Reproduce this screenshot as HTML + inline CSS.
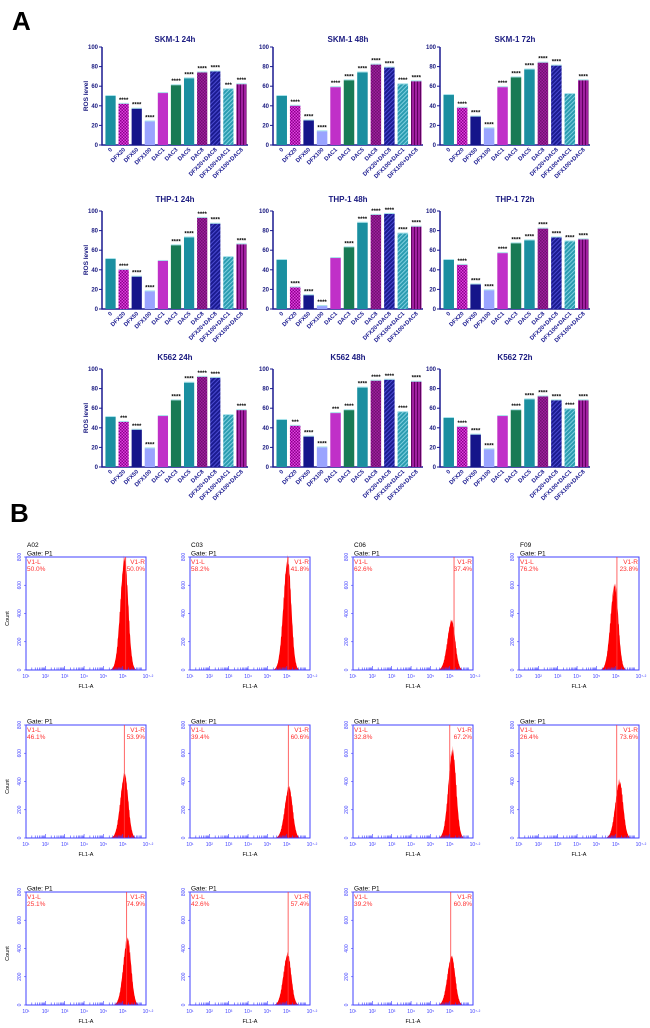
<!DOCTYPE html>
<html><head><meta charset="utf-8"><style>
html,body{margin:0;padding:0;background:#fff;}
svg{display:block;font-family:"Liberation Sans",Arial,sans-serif;}
</style></head><body>
<svg id="fig" width="650" height="1028" viewBox="0 0 650 1028">
<defs>
<pattern id="pChkM" width="3" height="3" patternUnits="userSpaceOnUse"><rect width="3" height="3" fill="#e040e0"/><rect width="1.5" height="1.5" fill="#8a008a"/><rect x="1.5" y="1.5" width="1.5" height="1.5" fill="#8a008a"/></pattern>
<pattern id="pChkP" width="3" height="3" patternUnits="userSpaceOnUse"><rect width="3" height="3" fill="#a020a0"/><rect width="1.5" height="1.5" fill="#701070"/><rect x="1.5" y="1.5" width="1.5" height="1.5" fill="#701070"/></pattern>
<pattern id="pDiagN" width="3" height="3" patternUnits="userSpaceOnUse" patternTransform="rotate(45)"><rect width="3" height="3" fill="#1a1a90"/><rect width="1" height="3" fill="#4a4ad0"/></pattern>
<pattern id="pDiagT" width="3" height="3" patternUnits="userSpaceOnUse" patternTransform="rotate(45)"><rect width="3" height="3" fill="#2a9cb0"/><rect width="1" height="3" fill="#80d0e0"/></pattern>
<pattern id="pVertP" width="3" height="3" patternUnits="userSpaceOnUse"><rect width="3" height="3" fill="#a020a0"/><rect width="1" height="3" fill="#600060"/></pattern>
</defs>
<text x="12" y="30" font-size="26" font-weight="bold">A</text>
<text x="10" y="522" font-size="26" font-weight="bold">B</text>
<g id="bars"></g>
<g id="hists"></g>
</svg>
<script>
const categories = ["0","DFX20","DFX50","DFX100","DAC1","DAC3","DAC5","DAC8","DFX20+DAC8","DFX100+DAC1","DFX100+DAC8"];
const titles = ["SKM-1 24h","SKM-1  48h","SKM-1 72h","THP-1 24h","THP-1 48h","THP-1 72h","K562  24h","K562  48h","K562   72h"];
const skm24 = [50,42,37,24,53,61,68,74,75,57,62];
const skm48 = [50,40,25,14,59,66,74,82,79,62,65];
const skm72 = [51,38,29,17,59,69,77,84,81,52,66];
const thp24 = [51,40,33,18,49,65,73,93,87,53,66];
const thp48 = [50,22,14,3,52,63,88,96,97,77,84];
const thp72 = [50,45,25,19,57,67,70,82,73,69,71];
const k24 = [51,46,38,19,52,68,86,92,91,53,58];
const k48 = [48,42,31,20,55,58,81,88,89,56,87];
const k72 = [50,41,33,18,52,58,69,72,68,59,68];
const series = [skm24,skm48,skm72,thp24,thp48,thp72,k24,k48,k72];
const stars = [
 ["","****","****","****","","****","****","****","****","***","****"],
 ["","****","****","****","****","****","****","****","****","****","****"],
 ["","****","****","****","****","****","****","****","****","","****"],
 ["","****","****","****","","****","****","****","****","","****"],
 ["","****","****","****","","****","****","****","****","****","****"],
 ["","****","****","****","****","****","****","****","****","****","****"],
 ["","***","****","****","","****","****","****","****","","****"],
 ["","***","****","****","***","****","****","****","****","****","****"],
 ["","****","****","****","","****","****","****","****","****","****"]
];
const yTicks = [0,20,40,60,80,100];

const fills = ["#1a8fa0","url(#pChkM)","#15158a","#9aa4ff","#c030c8","#187a55","#1a8fa0","url(#pChkP)","url(#pDiagN)","url(#pDiagT)","url(#pVertP)"];
const NS="http://www.w3.org/2000/svg";
function el(tag,attrs,parent,text){const e=document.createElementNS(NS,tag);for(const k in attrs)e.setAttribute(k,attrs[k]);if(text!==undefined)e.textContent=text;parent.appendChild(e);return e;}
const colX=[[102,248],[273,423],[440,590]];
const rowY=[[47,145,42],[211,309,202],[369,467,360]];
const barsG=document.getElementById('bars');
for(let p=0;p<9;p++){
  const c=p%3,r=Math.floor(p/3);
  const [x0,x1]=colX[c],[yT,yB,tY]=rowY[r];
  const g=el('g',{},barsG);
  
  
  const yS=v=>yB-(v/100)*(yB-yT);
  const slot=(x1-x0-2)/categories.length;
  const xS=i=>x0+2+slot*i+slot/2;
  const t=el('text',{x:(x0+x1)/2,y:tY,'text-anchor':'middle','font-size':8,'font-weight':'bold',fill:'#1a1a80'},g,titles[p]);
  
  
  const ax=el('path',{d:`M${x0},${yT} V${yB} H${x1}`,stroke:'#1a1a90','stroke-width':1.5,fill:'none'},g);
  
  
  yTicks.forEach(v=>{
    el('line',{x1:x0-3,x2:x0,y1:yS(v),y2:yS(v),stroke:'#1a1a90','stroke-width':1},g);
    const tl=el('text',{x:x0-4,y:yS(v)+2,'text-anchor':'end','font-size':6,'font-weight':'bold',fill:'#1a1a80'},g,String(v));
    
    
  });
  if(c===0){
    const yl=el('text',{x:0,y:0,transform:`translate(${x0-14},${(yT+yB)/2}) rotate(-90)`,'text-anchor':'middle','font-size':6.5,'font-weight':'bold',fill:'#1a1a80'},g,'ROS level');
    
    
  }
  series[p].forEach((v,i)=>{
    const bw=slot*0.78,x=xS(i)-bw/2;
    const b=el('rect',{x:x,y:yS(v),width:bw,height:yB-yS(v),fill:fills[i]},g);
    
    
    el('line',{x1:x,x2:x+bw,y1:yS(v)-0.5,y2:yS(v)-0.5,stroke:'#55c8d8','stroke-width':1,opacity:0.5},g);
    if(stars[p][i]){
      const s=el('text',{x:xS(i),y:yS(v)-2,'text-anchor':'middle','font-size':6,'font-weight':'bold',fill:'#000'},g,stars[p][i]);
      
      
    }
    const xl=el('text',{x:0,y:0,transform:`translate(${xS(i)+2},${yB+5}) rotate(-45)`,'text-anchor':'end','font-size':5.8,'font-weight':'bold',fill:'#1a1a90'},g,categories[i]);
    
    
  });
}

// Histograms
const histNames = ["A02","C03","C06","F09","","","","","","",""];
const leftPct = ["50.0%","58.2%","62.6%","76.2%","46.1%","39.4%","32.8%","26.4%","25.1%","42.6%","39.2%"];
const rightPct = ["50.0%","41.8%","37.4%","23.8%","53.9%","60.6%","67.2%","73.6%","74.9%","57.4%","60.8%"];
const peakCount = [790,780,350,600,450,360,620,400,470,360,345];
const peakLog = [6.1,6.05,6.1,5.95,6.1,6.12,6.15,6.2,6.25,6.05,6.1];
const gateLog = [6.15,6.07,6.22,6.06,6.08,6.08,6.0,6.05,6.2,6.07,6.05];
const countTicks = [0,200,400,600,800];
const hX=[26,190,353,519], hY=[557,725,892], hW=120, hH=113;
const hG=document.getElementById('hists');
const sup=["¹","²","³","⁴","⁵","⁶"];
for(let k=0;k<11;k++){
  const c=k%4,r=Math.floor(k/4);
  const x0=hX[c],y0=hY[r];
  const g=el('g',{},hG);
  
  
  const xS=l=>x0+(l-1)/6.2*hW;
  const yS=v=>y0+hH-(v/800)*hH;
  // histogram polygon
  let pts=`${xS(4.9)},${y0+hH} `;
  for(let l=4.9;l<=6.9;l+=0.02){
    const d=l-peakLog[k];
    const w=d<0?0.22:0.18;
    let v=peakCount[k]*Math.exp(-(d*d)/(2*w*w));
    v*= (1+0.06*Math.sin(l*137));
    pts+=`${xS(l).toFixed(1)},${yS(Math.max(0,v)).toFixed(1)} `;
  }
  pts+=`${xS(6.9)},${y0+hH}`;
  const hp=el('polygon',{points:pts,fill:'#ff0000'},g);
  
  
  const fr=el('rect',{x:x0,y:y0,width:hW,height:hH,fill:'none',stroke:'#4040ff','stroke-width':1},g);
  
  
  const gl=el('line',{x1:xS(gateLog[k]),x2:xS(gateLog[k]),y1:y0,y2:y0+hH,stroke:'#ff4040','stroke-width':0.8},g);
  
  
  // minor ticks
  for(let d=1;d<7;d++)for(let m=1;m<10;m++){const l=d+Math.log10(m);if(l>7.2)break;el('line',{x1:xS(l),x2:xS(l),y1:y0+hH,y2:y0+hH-(m===1?4:2.5),stroke:'#4040ff','stroke-width':0.6},g);}
  for(let d=1;d<=6;d++){
    const tl=el('text',{x:xS(d),y:y0+hH+8,'text-anchor':'middle','font-size':5,fill:'#4040ff'},g,'10'+sup[d-1]);
    
    
  }
  el('text',{x:x0+hW+2,y:y0+hH+8,'text-anchor':'middle','font-size':5,fill:'#4040ff'},g,'10⁷·²');
  countTicks.forEach(v=>{
    el('line',{x1:x0-2,x2:x0,y1:yS(v),y2:yS(v),stroke:'#4040ff','stroke-width':0.6},g);
    const tl=el('text',{x:0,y:0,transform:`translate(${x0-5},${yS(v)}) rotate(-90)`,'text-anchor':'middle','font-size':5,fill:'#4040ff'},g,String(v));
    
    
  });
  const xt=el('text',{x:x0+hW/2,y:y0+hH+18,'text-anchor':'middle','font-size':5.5,fill:'#000'},g,'FL1-A');
  
  
  if(c===0){
    const yt=el('text',{x:0,y:0,transform:`translate(${x0-17},${y0+hH/2+5}) rotate(-90)`,'text-anchor':'middle','font-size':5.5,fill:'#000'},g,'Count');
    
    
  }
  const gt=el('text',{x:x0+1,y:y0-1.5,'font-size':6.5,fill:'#000'},g,'Gate: P1');
  
  
  if(histNames[k]){
    const nt=el('text',{x:x0+1,y:y0-10,'font-size':6.5,fill:'#000'},g,histNames[k]);
    
    
  }
  el('text',{x:x0+1,y:y0+7,'font-size':6.5,fill:'#ff3030'},g,'V1-L');
  const lp=el('text',{x:x0+1,y:y0+14,'font-size':6.5,fill:'#ff3030'},g,leftPct[k]);
  
  
  el('text',{x:x0+hW-1,y:y0+7,'text-anchor':'end','font-size':6.5,fill:'#ff3030'},g,'V1-R');
  const rp=el('text',{x:x0+hW-1,y:y0+14,'text-anchor':'end','font-size':6.5,fill:'#ff3030'},g,rightPct[k]);
  
  
}
</script>
</body></html>
